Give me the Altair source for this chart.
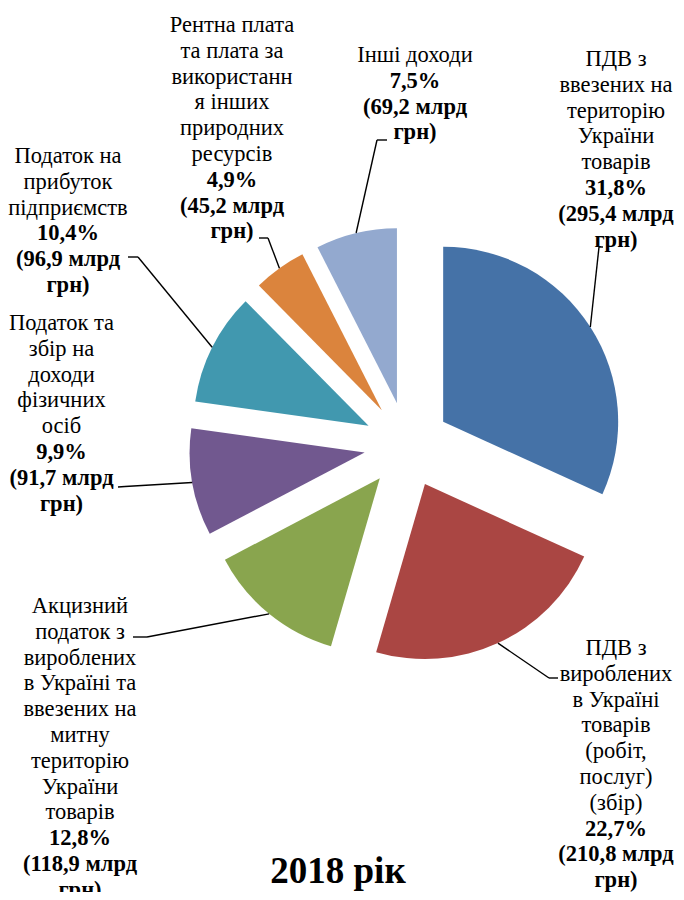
import altair as alt
import pandas as pd

# ---------------- data ----------------
names = [
    "ПДВ з ввезених на територію України товарів",
    "ПДВ з вироблених в Україні товарів (робіт, послуг) (збір)",
    "Акцизний податок з вироблених в Україні та ввезених на митну територію України товарів",
    "Податок та збір на доходи фізичних осіб",
    "Податок на прибуток підприємств",
    "Рентна плата та плата за використання інших природних ресурсів",
    "Інші доходи",
]
label_text = [
    "ПДВ з\nввезених на\nтериторію\nУкраїни\nтоварів",
    "ПДВ з\nвироблених\nв Україні\nтоварів\n(робіт,\nпослуг)\n(збір)",
    "Акцизний\nподаток з\nвироблених\nв Україні та\nввезених на\nмитну\nтериторію\nУкраїни\nтоварів",
    "Податок та\nзбір на\nдоходи\nфізичних\nосіб",
    "Податок на\nприбуток\nпідприємств",
    "Рентна плата\nта плата за\nвикористанн\nя інших\nприродних\nресурсів",
    "Інші доходи",
]
shares = [31.8, 22.7, 12.8, 9.9, 10.4, 4.9, 7.5]          # %
amounts = [295.4, 210.8, 118.9, 91.7, 96.9, 45.2, 69.2]   # млрд грн
colors = ["#4572A7", "#AA4643", "#89A54E", "#71588F", "#4198AF", "#DB843D", "#93A9CF"]
year_title = "2018 рік"

# ---------------- layout (page pixels) ----------------
MARGIN = 8
PIE_CX, PIE_CY = 407, 445
RADIUS = 175
EXPLODE = 43
LINE_H = 25.8
FONT = "Liberation Serif"
FONT_SIZE = 22.5

label_x = [616, 616, 80, 61.5, 68, 232, 415]
label_y = [66, 655, 613, 330, 163, 32, 62]        # baseline of first line
elbow_x = [599, 549, 147, 125, 138, 268, 377]
elbow_y = [247, 678, 637, 486.5, 257, 238, 140]
end_x = [603, 558, 133, 118, 128, 259, 387]
end_y = [247, 678, 637, 487, 257, 238, 140]


def fmt(v):
    return f"{v:.1f}".replace(".", ",")


df = pd.DataFrame({
    "order": list(range(len(names))),
    "name": names,
    "share": shares,
    "reg": label_text,
    "bold": [f"{fmt(s)}%\n({fmt(a)} млрд\nгрн)" for s, a in zip(shares, amounts)],
    "lx": [v - MARGIN for v in label_x],
    "ly": [v - MARGIN for v in label_y],
    "ex": [v - MARGIN for v in elbow_x],
    "ey": [v - MARGIN for v in elbow_y],
    "tx": [v - MARGIN for v in end_x],
    "ty": [v - MARGIN for v in end_y],
})

CX = PIE_CX - MARGIN
CY = PIE_CY - MARGIN

base = (
    alt.Chart(df)
    .transform_window(cum="sum(share)", sort=[alt.SortField("order")], frame=[None, 0])
    .transform_calculate(t0="(datum.cum - datum.share) / 100 * 2 * PI")
    .transform_calculate(t1="datum.cum / 100 * 2 * PI")
    .transform_calculate(mid="(datum.t0 + datum.t1) / 2")
    .transform_calculate(cx=f"{CX} + {EXPLODE} * sin(datum.mid)")
    .transform_calculate(cy=f"{CY} - {EXPLODE} * cos(datum.mid)")
    .transform_calculate(ax=f"{CX} + {EXPLODE + RADIUS} * sin(datum.mid)")
    .transform_calculate(ay=f"{CY} - {EXPLODE + RADIUS} * cos(datum.mid)")
    .transform_calculate(reg_lines="split(datum.reg, '\\n')")
    .transform_calculate(bold_lines="split(datum.bold, '\\n')")
    .transform_calculate(by=f"datum.ly + length(datum.reg_lines) * {LINE_H}")
)

arcs = base.mark_arc(outerRadius=RADIUS, stroke=None).encode(
    theta=alt.Theta("t0:Q", scale=None),
    theta2=alt.Theta2("t1"),
    x=alt.X("cx:Q", scale=None, axis=None),
    y=alt.Y("cy:Q", scale=None, axis=None),
    color=alt.Color("name:N", scale=alt.Scale(domain=names, range=colors), legend=None),
)

lead1 = base.mark_rule(color="black", strokeWidth=1.4).encode(
    x=alt.X("ax:Q", scale=None, axis=None),
    y=alt.Y("ay:Q", scale=None, axis=None),
    x2=alt.X2("ex"),
    y2=alt.Y2("ey"),
)
lead2 = base.mark_rule(color="black", strokeWidth=1.4).encode(
    x=alt.X("ex:Q", scale=None, axis=None),
    y=alt.Y("ey:Q", scale=None, axis=None),
    x2=alt.X2("tx"),
    y2=alt.Y2("ty"),
)

txt_reg = base.mark_text(
    font=FONT, fontSize=FONT_SIZE, lineHeight=LINE_H, align="center",
    baseline="alphabetic", color="black",
).encode(
    x=alt.X("lx:Q", scale=None, axis=None),
    y=alt.Y("ly:Q", scale=None, axis=None),
    text=alt.Text("reg_lines:N"),
)
txt_bold = base.mark_text(
    font=FONT, fontSize=FONT_SIZE, lineHeight=LINE_H, align="center",
    baseline="alphabetic", color="black", fontWeight="bold",
).encode(
    x=alt.X("lx:Q", scale=None, axis=None),
    y=alt.Y("by:Q", scale=None, axis=None),
    text=alt.Text("bold_lines:N"),
)

title = alt.Chart(pd.DataFrame({"t": [year_title]})).mark_text(
    font=FONT, fontSize=37, fontWeight="bold", align="center",
    baseline="alphabetic", color="black",
).encode(
    x=alt.value(338 - MARGIN),
    y=alt.value(883 - MARGIN),
    text="t:N",
)

chart = (
    alt.layer(arcs, lead1, lead2, txt_reg, txt_bold, title)
    .properties(width=668, height=884, padding=0, autosize="none")
    .configure_view(stroke=None)
)

chart.save("out.html", embed_options={"renderer": "svg", "actions": False})
